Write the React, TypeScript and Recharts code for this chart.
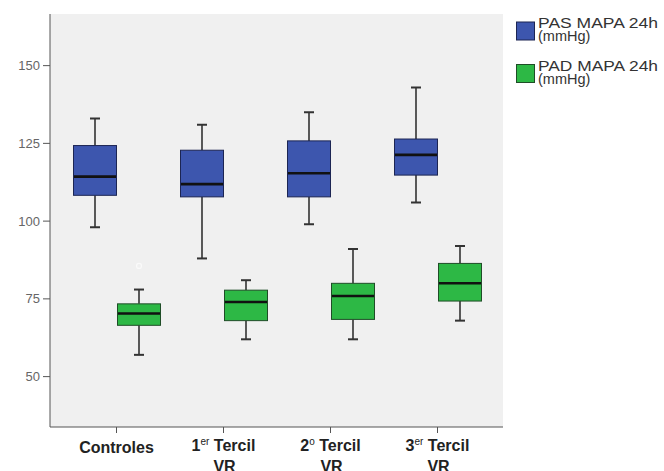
import { ComposedChart, Bar, XAxis, YAxis, CartesianGrid, Legend } from "recharts";

const categories = ["Controles", "1er Tercil VR", "2o Tercil VR", "3er Tercil VR"];

// PAS MAPA 24h (mmHg)
const pasMin = [98, 88, 99, 106];
const pasQ1 = [108.3, 107.8, 107.8, 114.8];
const pasMedian = [114.3, 111.9, 115.4, 121.3];
const pasQ3 = [124.3, 122.8, 125.8, 126.4];
const pasMax = [133, 131, 135, 143];

// PAD MAPA 24h (mmHg)
const padMin = [57, 62, 62, 68];
const padQ1 = [66.5, 68, 68.4, 74.3];
const padMedian = [70.3, 74, 75.9, 80];
const padQ3 = [73.4, 77.8, 80, 86.4];
const padMax = [78, 81, 91, 92];
const padOutliers = [[85.6], [], [], []];

const yTicks = [50, 75, 100, 125, 150];

const FONT = "'Liberation Sans', Arial, sans-serif";
const BLUE = "#3d56ae";
const BLUE_EDGE = "#1c2553";
const GREEN = "#2db845";
const GREEN_EDGE = "#1f4d27";

const data = categories.map((cat, i) => ({
  cat,
  pas: [pasMin[i], pasMax[i]],
  pasQ1: pasQ1[i],
  pasMed: pasMedian[i],
  pasQ3: pasQ3[i],
  pad: [padMin[i], padMax[i]],
  padQ1: padQ1[i],
  padMed: padMedian[i],
  padQ3: padQ3[i],
  padOut: padOutliers[i],
}));

// box drawn inside the range bar (whisker min..max), mapped linearly
const makeBox = (key: "pas" | "pad", fill: string, edge: string) => (props: any) => {
  const { x, y, width, height, payload } = props;
  const [lo, hi] = payload[key];
  const top = Math.min(y, y + height);
  const h = Math.abs(height);
  const py = (v: number) => top + ((hi - v) / (hi - lo)) * h;
  const cx = x + width / 2;
  const q1 = py(payload[key + "Q1"]);
  const q3 = py(payload[key + "Q3"]);
  const med = py(payload[key + "Med"]);
  const outs: number[] = payload[key + "Out"] || [];
  return (
    <g>
      <line x1={cx} x2={cx} y1={py(hi)} y2={q3} stroke="#333" strokeWidth={1.6} />
      <line x1={cx} x2={cx} y1={q1} y2={py(lo)} stroke="#333" strokeWidth={1.6} />
      <line x1={cx - 5} x2={cx + 5} y1={py(hi)} y2={py(hi)} stroke="#333" strokeWidth={2} />
      <line x1={cx - 5} x2={cx + 5} y1={py(lo)} y2={py(lo)} stroke="#333" strokeWidth={2} />
      <rect x={x + 0.5} y={q3} width={width - 1} height={q1 - q3} fill={fill} stroke={edge} strokeWidth={1} />
      <line x1={x + 1} x2={x + width - 1} y1={med} y2={med} stroke="#111" strokeWidth={2.6} />
      {outs.map((v, j) => (
        <circle key={j} cx={cx} cy={py(v)} r={2.5} fill="none" stroke="#fafafa" strokeWidth={1.2} />
      ))}
    </g>
  );
};

const XTick = (props: any) => {
  const { x, y, payload } = props;
  const label: string = payload.value;
  const m = label.match(/^(\d)(er|o) (\S+) (\S+)$/);
  const style = { fontFamily: FONT, fontWeight: 700, fill: "#222" };
  if (!m) {
    return (
      <text x={x} y={y + 18} textAnchor="middle" fontSize={16} {...style}>
        {label}
      </text>
    );
  }
  return (
    <g>
      <text x={x} y={y + 16} textAnchor="middle" fontSize={16} {...style}>
        <tspan>{m[1]}</tspan>
        <tspan dy={-6} fontSize={10} fontWeight={400}>{m[2]}</tspan>
        <tspan dy={6}>{" " + m[3]}</tspan>
      </text>
      <text x={x + 1} y={y + 37} textAnchor="middle" fontSize={16} {...style}>
        {m[4]}
      </text>
    </g>
  );
};

const legendItems = [
  { name: "PAS MAPA 24h", unit: "(mmHg)", fill: BLUE, edge: BLUE_EDGE },
  { name: "PAD MAPA 24h", unit: "(mmHg)", fill: GREEN, edge: GREEN_EDGE },
];

const renderLegend = () => (
  <svg width={152} height={90}>
    {legendItems.map((it, i) => (
      <g key={it.name} transform={`translate(0, ${i * 42.5})`}>
        <rect x={4.5} y={22} width={18} height={18} fill={it.fill} stroke={it.edge} />
        <text x={26} y={28} fontSize={14.5} fontFamily={FONT} fill="#333" textLength={120} lengthAdjust="spacingAndGlyphs">
          {it.name}
        </text>
        <text x={26} y={41} fontSize={14.5} fontFamily={FONT} fill="#333">
          {it.unit}
        </text>
      </g>
    ))}
  </svg>
);

export default function App() {
  return (
    <div style={{ position: "absolute", left: 0, top: 0, width: 664, height: 471, background: "#fff" }}>
      <ComposedChart
        width={664}
        height={471}
        data={data}
        margin={{ top: 14, right: 161, bottom: 0, left: 0 }}
        barGap={0}
        barSize={44}
      >
        <CartesianGrid fill="#f0f0f0" horizontal={false} vertical={false} />
        <XAxis
          dataKey="cat"
          height={44}
          interval={0}
          padding={{ left: 13, right: 12 }}
          tickSize={6}
          tick={<XTick />}
          stroke="#555"
          tickLine={{ stroke: "#555" }}
        />
        <XAxis xAxisId="top" dataKey="cat" orientation="top" height={0} tick={false} tickLine={false} stroke="#777" />
        <YAxis
          type="number"
          domain={[33.8, 166.6]}
          ticks={yTicks}
          allowDataOverflow
          width={50}
          tickSize={7}
          tickMargin={3}
          stroke="#555"
          tick={{ fontSize: 13, fill: "#666", fontFamily: FONT }}
        />
        <YAxis yAxisId="right" orientation="right" width={0} domain={[33.8, 166.6]} tick={false} tickLine={false} stroke="#777" />
        <Legend
          layout="horizontal"
          verticalAlign="middle"
          content={renderLegend}
          wrapperStyle={{ left: 512, top: 0, width: 152, height: 90 }}
        />
        <Bar dataKey="pas" name="PAS MAPA 24h (mmHg)" fill={BLUE} shape={makeBox("pas", BLUE, BLUE_EDGE)} isAnimationActive={false} />
        <Bar dataKey="pad" name="PAD MAPA 24h (mmHg)" fill={GREEN} shape={makeBox("pad", GREEN, GREEN_EDGE)} isAnimationActive={false} />
      </ComposedChart>
    </div>
  );
}
